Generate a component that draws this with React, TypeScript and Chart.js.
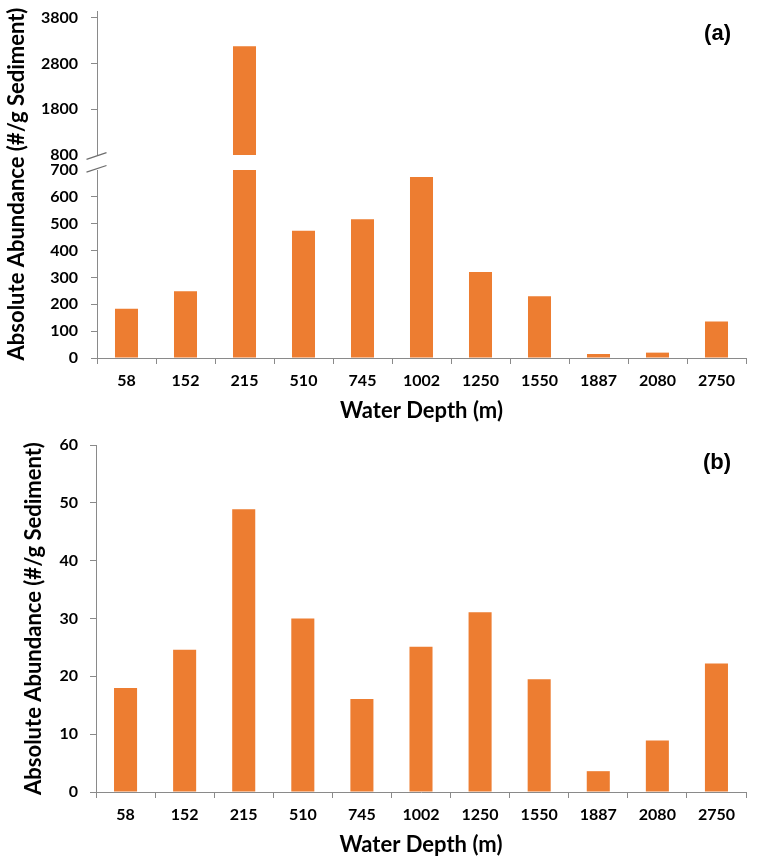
import React, { useEffect, useRef } from "react";
import { Chart, registerables } from "chart.js";

Chart.register(...registerables);

// ---------- data ----------
const depths = ["58", "152", "215", "510", "745", "1002", "1250", "1550", "1887", "2080", "2750"];
const abundanceA = [183, 249, 3180, 474, 517, 674, 320, 230, 15, 20, 136];
const abundanceB = [18.0, 24.6, 48.9, 30.0, 16.1, 25.1, 31.1, 19.5, 3.6, 8.9, 22.2];
const upperTicksA = [800, 1800, 2800, 3800];
const lowerTicksA = [0, 100, 200, 300, 400, 500, 600, 700];
const ticksB = [0, 10, 20, 30, 40, 50, 60];
const yTitleText = "Absolute Abundance (#/g Sediment)";
const xTitleText = "Water Depth (m)";
const panelLabels = ["(a)", "(b)"];

// ---------- style ----------
const ORANGE = "#ED7D31";
const AXIS = "#8A8A8A";
const FONT = "Lato, 'Open Sans', sans-serif";
const W = 757;

const tickFont = { family: FONT, size: 16, weight: "bold" as const };
const titleFont = { family: FONT, size: 22, weight: "bold" as const };

function yScale(min: number, max: number, ticks: number[], width: number, pad: number, hidden: number[]) {
  return {
    type: "linear" as const,
    min,
    max,
    afterBuildTicks: (s: any) => {
      s.ticks = ticks.map((v) => ({ value: v }));
    },
    afterFit: (s: any) => {
      s.width = width;
      s.paddingTop = 0;
      s.paddingBottom = 0;
    },
    grid: {
      drawOnChartArea: false,
      drawTicks: true,
      tickLength: 6,
      color: AXIS,
      tickColor: (c: any) => (c.tick && hidden.includes(c.tick.value) ? "rgba(0,0,0,0)" : AXIS),
    },
    border: { display: true, color: AXIS, width: 1 },
    ticks: {
      padding: pad,
      color: "#000",
      font: tickFont,
      callback: (v: any) => String(v),
    },
  };
}

function xScale(show: boolean) {
  return {
    type: "category" as const,
    display: show,
    offset: true,
    grid: { display: true, drawOnChartArea: false, drawTicks: true, tickLength: 6, color: AXIS, offset: true },
    border: { display: true, color: AXIS, width: 1 },
    ticks: { padding: 7, color: "#000", font: tickFont, maxRotation: 0, autoSkip: false },
    title: { display: true, text: xTitleText, color: "#000", font: titleFont, padding: { top: 0, bottom: 1 } },
    afterFit: (s: any) => {
      s.height = show ? 67 : 0;
      s.paddingLeft = 0;
      s.paddingRight = 0;
    },
  };
}

function dataset(values: number[]) {
  return {
    data: values,
    backgroundColor: ORANGE,
    borderWidth: 0,
    categoryPercentage: 1,
    barPercentage: 0.39,
    clip: 0,
  };
}

function breakMark(ctx: CanvasRenderingContext2D, x: number, y: number, dy: number) {
  ctx.save();
  ctx.strokeStyle = "#6E6E6E";
  ctx.lineWidth = 1.3;
  ctx.beginPath();
  ctx.moveTo(x - 10.5, y + 3.3 + dy);
  ctx.lineTo(x + 9.5, y - 3.3 + dy);
  ctx.stroke();
  ctx.restore();
}

function panelLabel(ctx: CanvasRenderingContext2D, text: string, x: number, y: number) {
  ctx.save();
  ctx.fillStyle = "#000";
  ctx.font = "bold 22px 'Liberation Sans', Arial, sans-serif";
  ctx.textAlign = "right";
  ctx.textBaseline = "middle";
  ctx.fillText(text, x, y);
  ctx.restore();
}

function baseOptions(padding: any, scales: any) {
  return {
    responsive: false,
    animation: false as const,
    devicePixelRatio: 1,
    layout: { padding },
    plugins: { legend: { display: false }, tooltip: { enabled: false } },
    scales,
  };
}

export default function App() {
  const topRef = useRef<HTMLCanvasElement>(null);
  const lowRef = useRef<HTMLCanvasElement>(null);
  const bRef = useRef<HTMLCanvasElement>(null);

  useEffect(() => {
    Chart.defaults.font.family = FONT;

    const topChart = new Chart(topRef.current!, {
      type: "bar",
      data: { labels: depths, datasets: [dataset(abundanceA) as any] },
      options: baseOptions(
        { top: 11, bottom: 10, left: 0, right: 11 },
        { x: xScale(false), y: yScale(upperTicksA[0], 3950, upperTicksA, 97, 13, [upperTicksA[0]]) }
      ) as any,
      plugins: [
        {
          id: "topDeco",
          afterDraw: (chart: any) => {
            const ctx = chart.ctx;
            const y = chart.scales.y.getPixelForValue(upperTicksA[0]);
            breakMark(ctx, chart.chartArea.left, y, 1);
            panelLabel(ctx, panelLabels[0], 731, 34);
          },
        },
      ],
    });

    const lowChart = new Chart(lowRef.current!, {
      type: "bar",
      data: { labels: depths, datasets: [dataset(abundanceA) as any] },
      options: baseOptions(
        { top: 170, bottom: 0, left: 0, right: 11 },
        { x: xScale(true), y: yScale(0, lowerTicksA[lowerTicksA.length - 1], lowerTicksA, 97, 13, [lowerTicksA[lowerTicksA.length - 1]]) }
      ) as any,
      plugins: [
        {
          id: "lowDeco",
          afterDraw: (chart: any) => {
            const ctx = chart.ctx;
            const y = chart.scales.y.getPixelForValue(lowerTicksA[lowerTicksA.length - 1]);
            breakMark(ctx, chart.chartArea.left, y, -1.2);
            ctx.save();
            ctx.fillStyle = "#000";
            ctx.font = `bold 22px ${FONT}`;
            ctx.textAlign = "center";
            ctx.textBaseline = "middle";
            ctx.translate(17, 184);
            ctx.rotate(-Math.PI / 2);
            ctx.fillText(yTitleText, 0, 0);
            ctx.restore();
          },
        },
      ],
    });

    const yB: any = yScale(0, 60, ticksB, 96, 12, []);
    yB.title = { display: true, text: yTitleText, color: "#000", font: titleFont, padding: { top: 21, bottom: 0 } };
    const bChart = new Chart(bRef.current!, {
      type: "bar",
      data: { labels: depths, datasets: [dataset(abundanceB) as any] },
      options: baseOptions({ top: 20, bottom: 0, left: 0, right: 11 }, { x: xScale(true), y: yB }) as any,
      plugins: [
        {
          id: "bDeco",
          afterDraw: (chart: any) => {
            panelLabel(chart.ctx, panelLabels[1], 731, 38);
          },
        },
      ],
    });

    return () => {
      topChart.destroy();
      lowChart.destroy();
      bChart.destroy();
    };
  }, []);

  return (
    <div style={{ position: "absolute", left: 0, top: 0, width: W, height: 859, background: "#fff" }}>
      <canvas ref={lowRef} width={W} height={425} style={{ position: "absolute", left: 0, top: 0, display: "block" }} />
      <canvas ref={topRef} width={W} height={165} style={{ position: "absolute", left: 0, top: 0, display: "block", pointerEvents: "none" }} />
      <canvas ref={bRef} width={W} height={434} style={{ position: "absolute", left: 0, top: 425, display: "block" }} />
    </div>
  );
}
